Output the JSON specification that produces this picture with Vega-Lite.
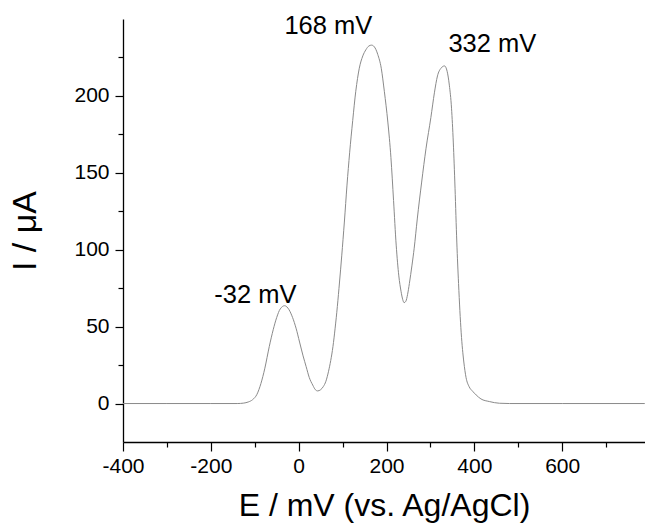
{
  "$schema": "https://vega.github.io/schema/vega-lite/v6.json",
  "width": 522,
  "height": 423,
  "autosize": {"type": "none"},
  "padding": {"left": 123, "top": 19, "right": 0, "bottom": 83},
  "config": {
    "view": {"stroke": null},
    "font": "Liberation Sans",
    "axis": {
      "grid": false,
      "domainColor": "#000000",
      "domainWidth": 1.3,
      "tickColor": "#000000",
      "tickWidth": 1.2,
      "labelColor": "#000000",
      "titleColor": "#000000",
      "labelFont": "Liberation Sans",
      "titleFont": "Liberation Sans",
      "labelFontSize": 21,
      "titleFontWeight": "normal",
      "labelOverlap": false,
      "labelFlush": false
    }
  },
  "layer": [
    {
      "data": {
        "values": [
          {"E": -400, "I": 0}, {"E": -300, "I": 0}, {"E": -200, "I": 0}, {"E": -140, "I": 0},
          {"E": -125, "I": 0.3}, {"E": -115, "I": 1}, {"E": -105, "I": 2.5}, {"E": -95, "I": 6},
          {"E": -86, "I": 13}, {"E": -77, "I": 23}, {"E": -67, "I": 37}, {"E": -58, "I": 48},
          {"E": -50, "I": 56}, {"E": -42, "I": 61.5}, {"E": -32, "I": 63.6}, {"E": -22, "I": 61},
          {"E": -14, "I": 56}, {"E": -6, "I": 49}, {"E": 2, "I": 40}, {"E": 10, "I": 31},
          {"E": 17, "I": 24}, {"E": 24, "I": 17}, {"E": 32, "I": 12}, {"E": 38, "I": 9},
          {"E": 43, "I": 8.2}, {"E": 50, "I": 9}, {"E": 56, "I": 11}, {"E": 62, "I": 14.5},
          {"E": 68, "I": 21}, {"E": 73, "I": 28}, {"E": 78, "I": 37}, {"E": 83, "I": 49},
          {"E": 88, "I": 63}, {"E": 93, "I": 79}, {"E": 98, "I": 96}, {"E": 104, "I": 118},
          {"E": 110, "I": 142}, {"E": 116, "I": 163}, {"E": 123, "I": 184}, {"E": 130, "I": 203},
          {"E": 138, "I": 218}, {"E": 146, "I": 226}, {"E": 153, "I": 230}, {"E": 160, "I": 232.5},
          {"E": 166, "I": 233}, {"E": 172, "I": 232}, {"E": 180, "I": 227}, {"E": 188, "I": 218},
          {"E": 195, "I": 203}, {"E": 203, "I": 183}, {"E": 210, "I": 160}, {"E": 216, "I": 132},
          {"E": 222, "I": 103}, {"E": 228, "I": 83}, {"E": 233, "I": 73}, {"E": 237, "I": 67.5},
          {"E": 240, "I": 65.6}, {"E": 244, "I": 66.5}, {"E": 248, "I": 71}, {"E": 252, "I": 78},
          {"E": 258, "I": 90}, {"E": 263, "I": 101}, {"E": 270, "I": 120}, {"E": 280, "I": 144},
          {"E": 290, "I": 166}, {"E": 301, "I": 186}, {"E": 309, "I": 202}, {"E": 316, "I": 213},
          {"E": 324, "I": 218}, {"E": 332, "I": 219.5}, {"E": 338, "I": 216}, {"E": 343, "I": 207},
          {"E": 348, "I": 192}, {"E": 352, "I": 170}, {"E": 356, "I": 140}, {"E": 360, "I": 105},
          {"E": 364, "I": 78}, {"E": 370, "I": 46}, {"E": 376, "I": 27}, {"E": 381, "I": 17},
          {"E": 388, "I": 11}, {"E": 396, "I": 8}, {"E": 404, "I": 5.6}, {"E": 415, "I": 3},
          {"E": 434, "I": 1.3}, {"E": 457, "I": 0.2}, {"E": 480, "I": 0}, {"E": 600, "I": 0},
          {"E": 788, "I": 0}
        ]
      },
      "mark": {"type": "line", "interpolate": "monotone", "color": "#8a8a8a", "strokeWidth": 1},
      "encoding": {
        "x": {
          "field": "E",
          "type": "quantitative",
          "scale": {"domain": [-400, 788.5], "nice": false, "zero": false},
          "axis": {
            "title": "E / mV (vs. Ag/AgCl)",
            "titleFontSize": 32,
            "values": [-400, -300, -200, -100, 0, 100, 200, 300, 400, 500, 600, 700, 800],
            "labelExpr": "datum.value % 200 === 0 ? '' + datum.value : ''",
            "tickSize": {"condition": {"test": "datum.value % 200 === 0", "value": 9}, "value": 5},
            "labelPadding": 4,
            "titlePadding": 14
          }
        },
        "y": {
          "field": "I",
          "type": "quantitative",
          "scale": {"domain": [-25, 250], "nice": false, "zero": false},
          "axis": {
            "title": "I / μA",
            "titleFontSize": 34,
            "values": [0, 25, 50, 75, 100, 125, 150, 175, 200, 225],
            "labelExpr": "datum.value % 50 === 0 ? '' + datum.value : ''",
            "tickSize": {"condition": {"test": "datum.value % 50 === 0", "value": 8}, "value": 5},
            "labelPadding": 6,
            "titlePadding": 31
          }
        }
      }
    },
    {
      "data": {
        "values": [
          {"E": -98.6, "I": 65.6, "label": "-32 mV"},
          {"E": 67.6, "I": 240, "label": "168 mV"},
          {"E": 441, "I": 228.6, "label": "332 mV"}
        ]
      },
      "mark": {"type": "text", "fontSize": 25.5, "align": "center", "baseline": "alphabetic", "color": "#000000", "font": "Liberation Sans"},
      "encoding": {
        "x": {"field": "E", "type": "quantitative"},
        "y": {"field": "I", "type": "quantitative"},
        "text": {"field": "label"}
      }
    }
  ]
}
